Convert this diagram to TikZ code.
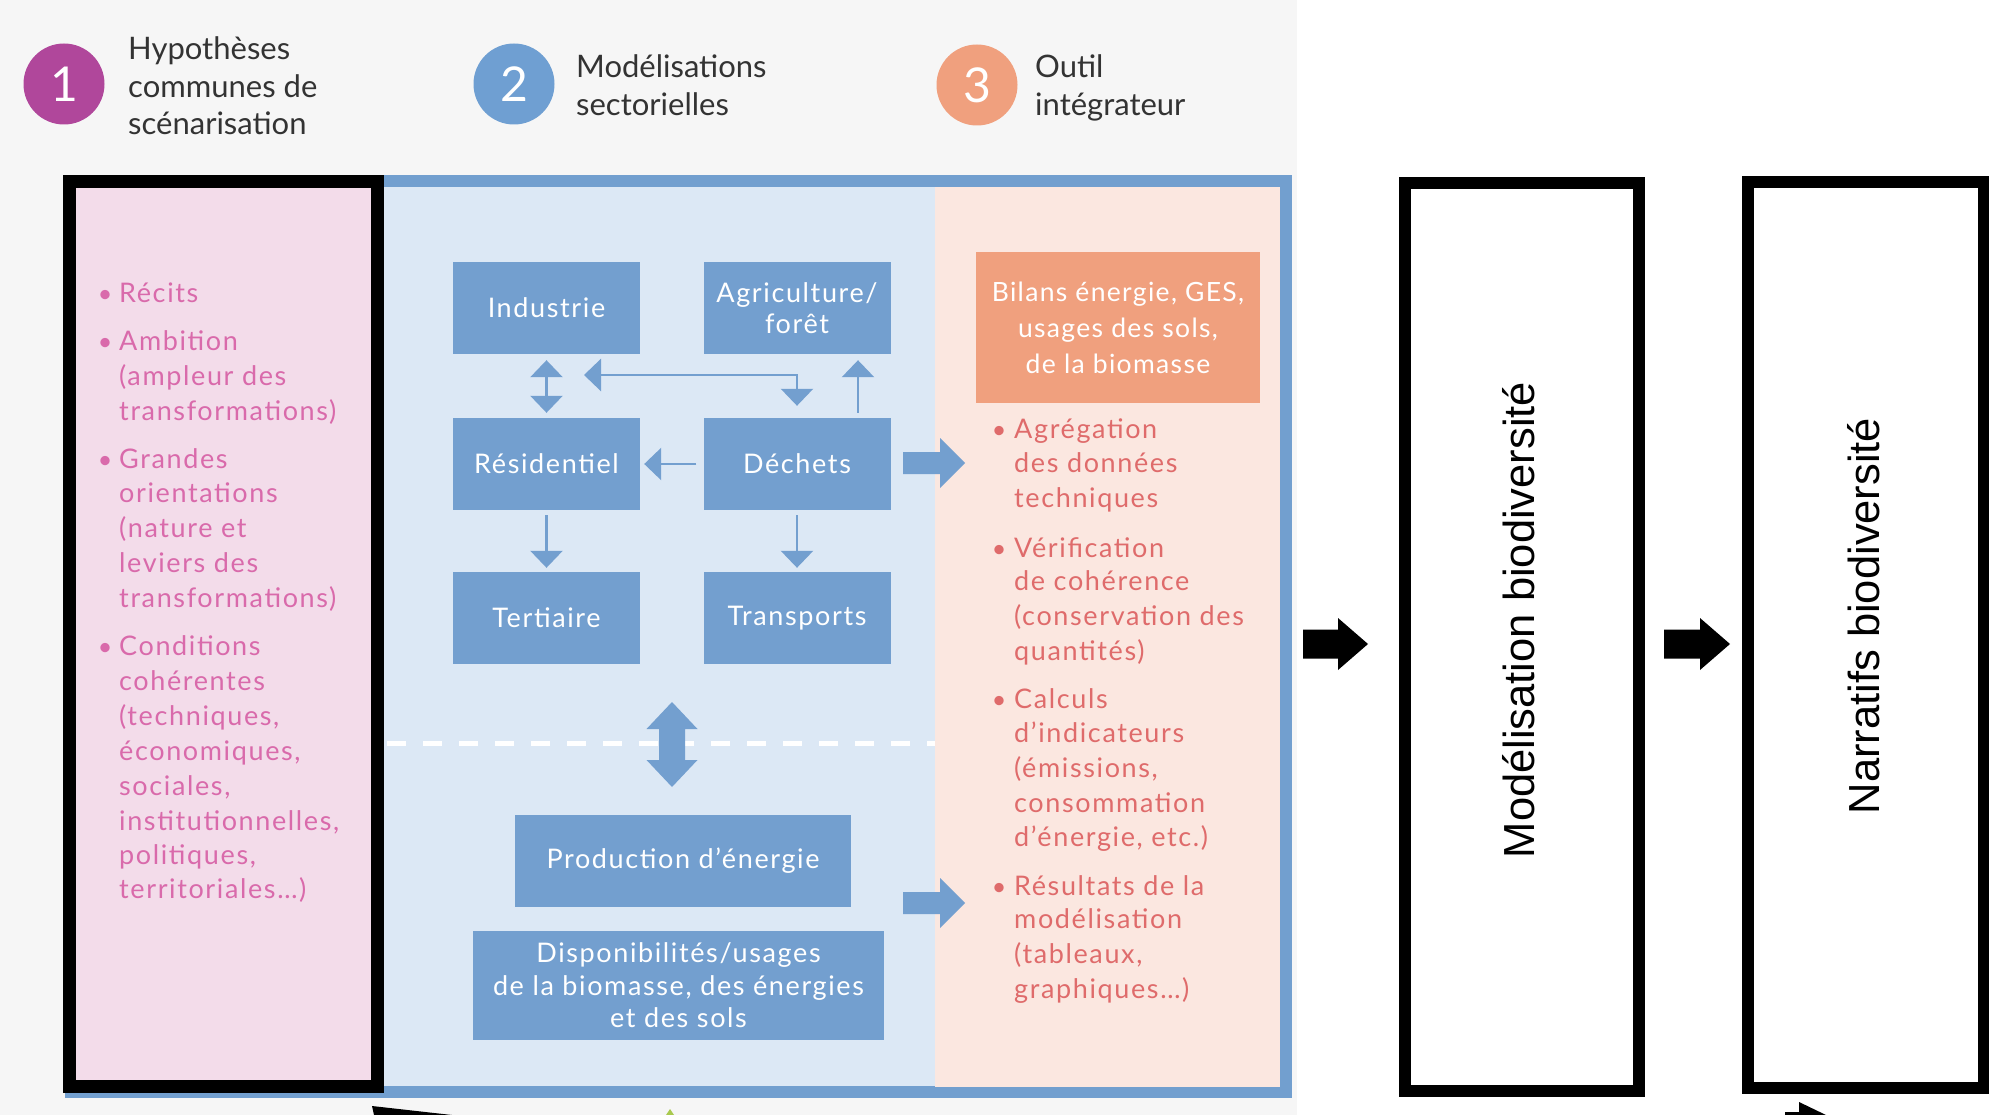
\documentclass[tikz,border=0pt]{standalone}
\usepackage{fontspec}
\setmainfont{Lato}
\newfontfamily\bodyfont[LetterSpace=6]{Lato}
\newfontfamily\bilfont[LetterSpace=5]{Lato}
\newfontfamily\hdrfont{Lato}
\newfontfamily\arialfont{Liberation Sans}
\usetikzlibrary{arrows.meta}
\definecolor{bggrey}{HTML}{F6F6F6}
\definecolor{frameblue}{HTML}{729FCF}
\definecolor{lightblue}{HTML}{DCE8F5}
\definecolor{boxblue}{HTML}{739FCF}
\definecolor{pinkfill}{HTML}{F3DCEA}
\definecolor{pinktext}{HTML}{D96AAB}
\definecolor{peachfill}{HTML}{FBE7E0}
\definecolor{salmon}{HTML}{F0A07E}
\definecolor{coraltext}{HTML}{DF6B6B}
\definecolor{purplec}{HTML}{B0479B}
\definecolor{bluec}{HTML}{6F9FD2}
\definecolor{headtext}{HTML}{333333}
\definecolor{greentip}{HTML}{A9C94F}
\begin{document}
\begin{tikzpicture}[x=1pt,y=-1pt,
  >={Triangle[width=32pt,length=17pt]},
  sector/.style={fill=boxblue, text=white, font=\bodyfont\fontsize{27}{31}\selectfont,
    align=center, inner sep=0pt, minimum width=187pt, minimum height=92pt},
  flowarrow/.style={draw=boxblue, line width=2.5pt, ->},
  twoway/.style={draw=boxblue, line width=2.5pt, <->},
  numcirc/.style={circle, minimum size=81pt, inner sep=0pt, text=white,
    font=\hdrfont\fontsize{48}{48}\selectfont},
  hdr/.style={anchor=base west, inner sep=0pt, text=headtext, font=\hdrfont\fontsize{31}{31}\selectfont},
  hyptxt/.style={anchor=base west, inner sep=0pt, text=pinktext, font=\bodyfont\fontsize{27}{30}\selectfont},
  hypbul/.style={anchor=base, inner sep=0pt, text=pinktext, font=\hdrfont\fontsize{25}{30}\selectfont},
  outtxt/.style={anchor=base west, inner sep=0pt, text=coraltext, font=\bodyfont\fontsize{27}{30}\selectfont},
  outbul/.style={anchor=base, inner sep=0pt, text=coraltext, font=\hdrfont\fontsize{25}{30}\selectfont},
  bigbox/.style={draw=black, line width=12pt, fill=white, inner sep=0pt},
  vertlabel/.style={rotate=90, inner sep=0pt, font=\arialfont\fontsize{43.5}{43.5}\selectfont},
  pics/barrow/.style n args={5}{code={
    \fill[#5] (0,-#2/2) -- (#3,-#2/2) -- (#3,-#4/2) -- (#1,0) -- (#3,#4/2) -- (#3,#2/2) -- (0,#2/2) -- cycle;}}
]
\useasboundingbox (0,0) rectangle (1989,1115);
\fill[white] (0,0) rectangle (1989,1115);
\fill[bggrey] (0,0) rectangle (1297,1115);

% ---- header ----
\node[numcirc, fill=purplec] (c1) at (64,84) {1};
\node[numcirc, fill=bluec] (c2) at (514,84) {2};
\node[numcirc, fill=salmon] (c3) at (977,85) {3};
\node[hdr] (h1a) at (128,60) {Hypothèses};
\node[hdr] (h1b) at (128,98) {communes de};
\node[hdr] (h1c) at (128,135) {scénarisation};
\node[hdr] (h2a) at (576,78) {Modélisations};
\node[hdr] (h2b) at (576,116) {sectorielles};
\node[hdr] (h3a) at (1035,78) {Outil};
\node[hdr] (h3b) at (1035,116) {intégrateur};

% ---- main frame ----
\node[fill=lightblue, draw=frameblue, line width=12pt, inner sep=0pt,
  minimum width=1215pt, minimum height=911pt] (frame) at (678.5,636.5) {};
\node[fill=peachfill, inner sep=0pt, minimum width=345pt, minimum height=900pt] (outil) at (1107.5,637) {};
\node[draw=black, line width=13pt, fill=pinkfill, inner sep=0pt,
  minimum width=308pt, minimum height=905pt] (hyp) at (223,634) {};

% dashed separator
\draw[white, line width=5pt, dash pattern=on 19pt off 17pt] (387,743) -- (935,743);

% ---- sector boxes ----
\node[sector] (ind) at (546.5,308) {Industrie};
\node[sector] (agr) at (797,308) {Agriculture/\\forêt};
\node[sector] (res) at (546.5,464) {Résidentiel};
\node[sector] (dec) at (797,464) {Déchets};
\node[sector] (ter) at (546.5,618) {Tertiaire};
\node[sector] (tra) at (797,618) {Transports};
\node[sector, minimum width=336pt] (prod) at (683,861) {Production d’énergie};
\node[sector, minimum width=411pt, minimum height=109pt, font=\bodyfont\fontsize{27}{32.5}\selectfont] (dispo) at (678.5,985.5)
  {Disponibilités/usages\\de la biomasse, des énergies\\et des sols};

% ---- small arrows ----
\draw[twoway, shorten <=6pt, shorten >=5pt] (ind.south) -- (res.north);
\coordinate (elbowL) at (584,375);
\draw[twoway, shorten >=12pt] (elbowL) -| (dec.north);
\coordinate (upx) at (858,0);
\draw[flowarrow, shorten <=5pt, shorten >=6pt] (upx |- dec.north) -- (upx |- agr.south);
\draw[flowarrow, shorten <=7pt, shorten >=4pt] (dec.west) -- (res.east);
\draw[flowarrow, shorten <=5pt, shorten >=4pt] (res.south) -- (ter.north);
\draw[flowarrow, shorten <=5pt, shorten >=4pt] (dec.south) -- (tra.north);

% big vertical double arrow
\fill[boxblue] (672,702) -- (697.5,729) -- (685,729) -- (685,760) -- (697.5,760) -- (672,787)
  -- (646.5,760) -- (659,760) -- (659,729) -- (646.5,729) -- cycle;

% block arrows towards the integrating tool
\pic (ba1) at (903,463) {barrow={62}{22}{37}{50}{boxblue}};
\pic (ba2) at (903,903) {barrow={62}{22}{37}{50}{boxblue}};

% ---- pink list ----
\foreach \yy/\tx [count=\k] in {302/Récits, 350/Ambition, 385/{(ampleur des}, 420/{transformations)},
  468/Grandes, 502/orientations, 537/{(nature et}, 572/{leviers des}, 607/{transformations)},
  655/Conditions, 690/cohérentes, 725/{(techniques,}, 760/{économiques,}, 795/{sociales,},
  830/{institutionnelles,}, 864/{politiques,}, 898/{territoriales…)}}
  \node[hyptxt] (hypl\k) at (119,\yy) {\tx};
\foreach \yy [count=\k] in {302,350,468,655}
  \node[hypbul] (hypb\k) at (105,\yy) {•};

% ---- integrating tool ----
\node[fill=salmon, text=white, inner sep=0pt, minimum width=284pt, minimum height=151pt,
  align=center, font=\bilfont\fontsize{26.5}{36}\selectfont] (bil) at (1118,327.5)
  {Bilans énergie, GES,\\usages des sols,\\de la biomasse};
\foreach \yy/\tx [count=\k] in {438/Agrégation, 472/{des données}, 507/techniques,
  557/Vérification, 590/{de cohérence}, 625/{(conservation des}, 660/{quantités)},
  708/Calculs, 742/{d’indicateurs}, 777/{(émissions,}, 812/consommation, 846/{d’énergie, etc.)},
  895/{Résultats de la}, 928/modélisation, 963/{(tableaux,}, 998/{graphiques…)}}
  \node[outtxt] (outl\k) at (1014,\yy) {\tx};
\foreach \yy [count=\k] in {438,557,708,895}
  \node[outbul] (outb\k) at (999,\yy) {•};

% ---- biodiversity boxes ----
\node[bigbox, minimum width=234pt, minimum height=908pt] (modbio) at (1522,637) {};
\node[vertlabel] (modbiotxt) at (1519,620) {Modélisation biodiversité};
\node[bigbox, minimum width=236pt, minimum height=906pt] (narbio) at (1866,635) {};
\node[vertlabel] (narbiotxt) at (1864,616) {Narratifs biodiversité};

\pic (bk1) at (1303,644) {barrow={65}{29}{35}{52}{black}};
\pic (bk2) at (1664,644) {barrow={66}{29}{36}{52}{black}};

% ---- cut-off fragments at the bottom edge ----
\fill[black] (372,1106) -- (452,1115) -- (374,1115) -- cycle;
\fill[greentip] (666,1115) -- (670,1109) -- (674,1115) -- cycle;
\fill[black] (1799,1102) -- (1826,1115) -- (1799,1115) -- cycle;
\fill[black] (1785,1112) rectangle (1800,1115);
\end{tikzpicture}
\end{document}
